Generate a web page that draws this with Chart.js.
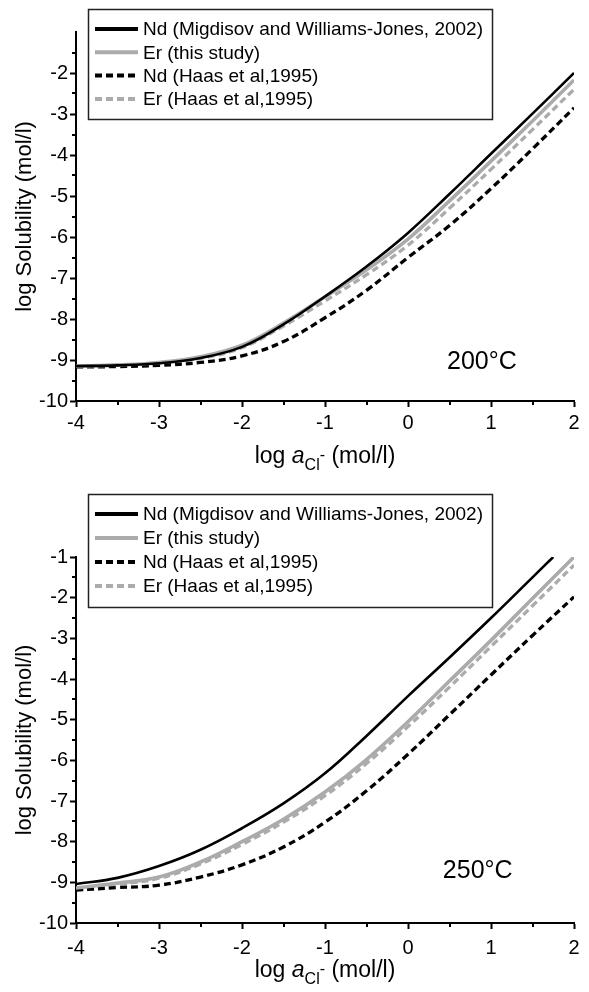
<!DOCTYPE html>
<html><head><meta charset="utf-8">
<script src="https://cdn.jsdelivr.net/npm/chart.js@4.4.1/dist/chart.umd.min.js"></script>
<style>
html,body{margin:0;padding:0;background:#fff;}
#wrap{position:relative;width:589px;height:992px;overflow:hidden;}
#c1{position:absolute;left:0;top:0;}
#c2{position:absolute;left:0;top:480px;}
</style></head><body>
<div id="wrap">
<canvas id="c1" width="589" height="480"></canvas>
<canvas id="c2" width="589" height="512"></canvas>
</div>
<script>
// ---- data ----
const xValues = [-4,-3.5,-3,-2.5,-2,-1.5,-1,-0.5,0,0.5,1,1.5,2];
const xValuesNd250 = [-4,-3.5,-3,-2.5,-2,-1.5,-1,-0.5,0,0.5,1,1.5,1.75];

const nd200Migdisov = [-9.15,-9.13,-9.08,-8.95,-8.68,-8.13,-7.45,-6.72,-5.9,-4.95,-3.97,-2.99,-2.0];
const er200This     = [-9.15,-9.12,-9.06,-8.92,-8.64,-8.1,-7.46,-6.8,-6.05,-5.12,-4.15,-3.17,-2.17];
const nd200Haas     = [-9.17,-9.16,-9.13,-9.06,-8.9,-8.55,-7.97,-7.3,-6.5,-5.72,-4.82,-3.85,-2.85];
const er200Haas     = [-9.16,-9.13,-9.08,-8.96,-8.7,-8.17,-7.56,-6.92,-6.2,-5.3,-4.35,-3.38,-2.4];

const nd250Migdisov = [-9.04,-8.89,-8.6,-8.2,-7.67,-7.06,-6.32,-5.4,-4.42,-3.47,-2.5,-1.5,-1.0];
const er250This     = [-9.14,-9.02,-8.87,-8.5,-8.0,-7.45,-6.78,-5.98,-5.05,-4.05,-3.05,-2.02,-1.0];
const nd250Haas     = [-9.19,-9.13,-9.07,-8.87,-8.57,-8.13,-7.52,-6.75,-5.85,-4.88,-3.9,-2.93,-1.98];
const er250Haas     = [-9.16,-9.05,-8.9,-8.55,-8.07,-7.52,-6.87,-6.08,-5.17,-4.2,-3.2,-2.2,-1.2];

const seriesLabels = ['Nd (Migdisov and Williams-Jones, 2002)','Er (this study)','Nd (Haas et al,1995)','Er (Haas et al,1995)'];
const xTickValues = [-4,-3,-2,-1,0,1,2];
const xTickLabels = ['-4','-3','-2','-1','0','1','2'];
const yTickValues = [-10,-9,-8,-7,-6,-5,-4,-3,-2,-1];
const yTickLabels200 = ['-10','-9','-8','-7','-6','-5','-4','-3','-2',''];
const yTickLabels250 = ['-10','-9','-8','-7','-6','-5','-4','-3','-2','-1'];
const tempLabels = ['200°C','250°C'];
const yTitle = 'log Solubility (mol/l)';
const xTitleParts = ['log ','a','Cl','-',' (mol/l)'];

// ---- helpers ----
const FONT = "'Liberation Sans', Arial, Helvetica, sans-serif";
function pts(xs, ys){ return xs.map((x,i)=>({x:x, y:ys[i]})); }
const seriesStyles = [
  {borderColor:'#000000', borderWidth:2.6, borderDash:[]},
  {borderColor:'#ababab', borderWidth:3.6, borderDash:[]},
  {borderColor:'#000000', borderWidth:3.3, borderDash:[7,4]},
  {borderColor:'#ababab', borderWidth:3.3, borderDash:[7,4]}
];
function makeDatasets(list){
  return list.map((d,i)=>Object.assign({
    label: seriesLabels[i], data: d, pointRadius:0, fill:false,
    tension:0.4, borderCapStyle:'butt'
  }, seriesStyles[i]));
}

const decorPlugin = {
  id:'decor',
  afterDraw(chart, args, o){
    const ctx = chart.ctx, xs = chart.scales.x, ys = chart.scales.y, ca = chart.chartArea;
    ctx.save();
    // minor ticks
    ctx.strokeStyle = '#000'; ctx.lineWidth = 2; ctx.setLineDash([]);
    for (let v = xs.min + 0.5; v < xs.max; v += 1){
      const p = Math.round(xs.getPixelForValue(v));
      ctx.beginPath(); ctx.moveTo(p, ca.bottom); ctx.lineTo(p, ca.bottom + 4); ctx.stroke();
    }
    for (let v = ys.min + 0.5; v < ys.max; v += 1){
      const p = Math.round(ys.getPixelForValue(v));
      ctx.beginPath(); ctx.moveTo(ca.left, p); ctx.lineTo(ca.left - 4, p); ctx.stroke();
    }
    // legend
    const L = o.legend;
    ctx.fillStyle = '#fff'; ctx.fillRect(L.x, L.y, L.w, L.h);
    ctx.lineWidth = 1.5; ctx.strokeStyle = '#222';
    ctx.strokeRect(L.x + 0.5, L.y + 0.5, L.w, L.h);
    chart.data.datasets.forEach((ds, i) => {
      const y = L.y + L.first + i * L.step;
      ctx.beginPath(); ctx.setLineDash(ds.borderDash || []);
      ctx.lineWidth = 4; ctx.strokeStyle = ds.borderColor; ctx.lineCap = 'butt';
      ctx.moveTo(L.x + 7, y); ctx.lineTo(L.x + 50, y); ctx.stroke();
      ctx.setLineDash([]);
      ctx.fillStyle = '#000'; ctx.font = '19px ' + FONT;
      ctx.textBaseline = 'middle'; ctx.textAlign = 'left';
      ctx.fillText(ds.label, L.x + 55, y + 1);
    });
    // temperature label
    ctx.fillStyle = '#000'; ctx.font = '25px ' + FONT;
    ctx.textAlign = 'left'; ctx.textBaseline = 'middle';
    ctx.fillText(o.temp, xs.getPixelForValue(o.tempX), ys.getPixelForValue(o.tempY));
    // x-axis title with italic a, subscript Cl, superscript -
    const fs = 23, small = 16;
    const fonts = [fs + 'px ' + FONT, 'italic ' + fs + 'px ' + FONT, small + 'px ' + FONT, small + 'px ' + FONT, fs + 'px ' + FONT];
    const shifts = [0, 0, 7, -3, 0];
    let total = 0; const widths = [];
    xTitleParts.forEach((t, i) => { ctx.font = fonts[i]; const w = ctx.measureText(t).width; widths.push(w); total += w; });
    let x = (ca.left + ca.right) / 2 - total / 2;
    ctx.textBaseline = 'alphabetic'; ctx.textAlign = 'left';
    xTitleParts.forEach((t, i) => { ctx.font = fonts[i]; ctx.fillText(t, x, o.titleBaseline + shifts[i]); x += widths[i]; });
    ctx.restore();
  }
};

function buildChart(canvasId, datasets, yLabels, cfg){
  return new Chart(document.getElementById(canvasId), {
    type:'line',
    data:{ datasets: datasets },
    options:{
      responsive:false, animation:false, devicePixelRatio:1,
      layout:{ padding:{ left:0, right:15, top:cfg.padTop, bottom:0 } },
      plugins:{ legend:{display:false}, tooltip:{enabled:false}, decor: cfg.decor },
      scales:{
        x:{
          type:'linear', min:-4, max:2,
          afterBuildTicks: s => { s.ticks = xTickValues.map(v => ({value:v})); },
          afterFit: s => { s.height = cfg.xHeight; },
          ticks:{ callback: v => xTickLabels[xTickValues.indexOf(v)], color:'#000', font:{family:FONT, size:20}, padding:cfg.xPad, maxRotation:0, autoSkip:false },
          grid:{ drawOnChartArea:false, drawTicks:true, tickLength:6, tickWidth:2, tickColor:'#000' },
          border:{ display:true, color:'#000', width:2 }
        },
        y:{
          type:'linear', min:-10, max:-1,
          afterBuildTicks: s => { s.ticks = yTickValues.map(v => ({value:v})); },
          afterFit: s => { s.width = 76; },
          ticks:{ callback: v => yLabels[yTickValues.indexOf(v)], color:'#000', font:{family:FONT, size:20}, padding:2, autoSkip:false },
          grid:{ drawOnChartArea:false, drawTicks:true, tickLength:6, tickWidth:2,
                 tickColor: c => (c.tick && yLabels[yTickValues.indexOf(c.tick.value)] === '') ? 'rgba(0,0,0,0)' : '#000' },
          border:{ display:true, color:'#000', width:2 },
          title:{ display:true, text:yTitle, color:'#000', font:{family:FONT, size:22}, padding:{top:12, bottom:0} }
        }
      }
    },
    plugins:[decorPlugin]
  });
}

buildChart('c1', makeDatasets([
  pts(xValues, nd200Migdisov), pts(xValues, er200This), pts(xValues, nd200Haas), pts(xValues, er200Haas)
]), yTickLabels200, {
  padTop:32, xHeight:79, xPad:4,
  decor:{ legend:{x:88, y:9, w:404, h:110, first:20, step:23.3}, temp:tempLabels[0], tempX:0.47, tempY:-9.05, titleBaseline:463 }
});

buildChart('c2', makeDatasets([
  pts(xValuesNd250, nd250Migdisov), pts(xValues, er250This), pts(xValues, nd250Haas), pts(xValues, er250Haas)
]), yTickLabels250, {
  padTop:77, xHeight:69, xPad:7,
  decor:{ legend:{x:88, y:14, w:404, h:113, first:20, step:24}, temp:tempLabels[1], tempX:0.42, tempY:-8.72, titleBaseline:497 }
});
</script>
</body></html>
